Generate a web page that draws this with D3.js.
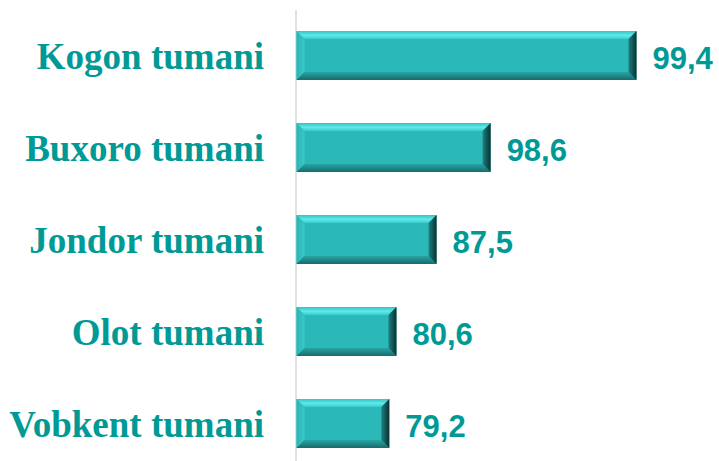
<!DOCTYPE html>
<html>
<head>
<meta charset="utf-8">
<script src="https://cdn.jsdelivr.net/npm/d3@7"></script>
<style>
  body { margin: 0; background: #fff; }
</style>
</head>
<body id="viz">
<script>
// Data
districts = ["Kogon tumani", "Buxoro tumani", "Jondor tumani", "Olot tumani", "Vobkent tumani"]
labels = ["99,4", "98,6", "87,5", "80,6", "79,2"]
// bar length as share of the longest bar (bars are not drawn to the printed values)
bar_share = [100, 57.1, 41.2, 29.4, 27.3]

// Consts
svg_width = 719
svg_height = 461
axis_x = 296.5
bar_end = 636.5
bevel = 8
teal = "#009a96"

svg = d3.select("body#viz")
  .append("svg")
  .attr("width", svg_width)
  .attr("height", svg_height)

var x = d3.scaleLinear()
  .domain([0, 100])
  .range([axis_x, bar_end])

var y = d3.scaleBand()
  .domain(districts)
  .range([9.5, 469.5])
  .paddingInner(0.467)
  .paddingOuter(0.2335)

// gradients for the bevel
var defs = svg.append("defs")
function grad(id, x2, y2, stops) {
  var g = defs.append("linearGradient")
    .attr("id", id)
    .attr("x1", 0).attr("y1", 0)
    .attr("x2", x2).attr("y2", y2)
  stops.forEach(function(s) {
    g.append("stop").attr("offset", s[0]).attr("stop-color", s[1])
  })
}
grad("g_top", 0, 1, [[0, "#34c2c2"], [0.55, "#5eeaea"], [1, "#3ccaca"]])
grad("g_left", 1, 0, [[0, "#2cb4b4"], [1, "#3ac8c8"]])
grad("g_bottom", 0, 1, [[0, "#28a4a4"], [1, "#1a6a6a"]])
grad("g_right", 1, 0, [[0, "#1f8080"], [1, "#093030"]])

// vertical axis line
svg.append("line")
  .attr("x1", axis_x - 0.5).attr("x2", axis_x - 0.5)
  .attr("y1", 10).attr("y2", svg_height)
  .style("stroke", "#d9d9d9")
  .style("stroke-width", 1.5)

var rows = svg.selectAll("g.bar")
  .data(districts)
  .enter().append("g")
  .attr("class", "bar")

rows.append("rect")
  .attr("x", x(0))
  .attr("y", function(d) { return y(d) })
  .attr("width", function(d, i) { return x(bar_share[i]) - x(0) })
  .attr("height", y.bandwidth())
  .attr("fill", "#2bb8b8")

function facet(side) {
  return function(d, i) {
    var x0 = x(0), x1 = x(bar_share[i]), y0 = y(d), y1 = y(d) + y.bandwidth(), b = bevel
    var p
    if (side == "top") p = [[x0, y0], [x1, y0], [x1 - b, y0 + b], [x0 + b, y0 + b]]
    if (side == "bottom") p = [[x0, y1], [x1, y1], [x1 - b, y1 - b], [x0 + b, y1 - b]]
    if (side == "left") p = [[x0, y0], [x0 + b, y0 + b], [x0 + b, y1 - b], [x0, y1]]
    if (side == "right") p = [[x1, y0], [x1 - b, y0 + b], [x1 - b, y1 - b], [x1, y1]]
    return "M" + p.join("L") + "Z"
  }
}
;["top", "left", "bottom", "right"].forEach(function(side) {
  rows.append("path")
    .attr("d", facet(side))
    .attr("fill", "url(#g_" + side + ")")
})

// value labels
rows.append("text")
  .attr("x", function(d, i) { return x(bar_share[i]) + 16 })
  .attr("y", function(d) { return y(d) + y.bandwidth() / 2 + 13 })
  .text(function(d, i) { return labels[i] })
  .style("font-family", "'Liberation Sans', Arial, sans-serif")
  .style("font-weight", "bold")
  .style("font-size", "31px")
  .style("fill", teal)

// category labels
rows.append("text")
  .attr("x", 264)
  .attr("y", function(d) { return y(d) + y.bandwidth() / 2 + 13 })
  .attr("text-anchor", "end")
  .text(function(d) { return d })
  .style("font-family", "'Liberation Serif', 'Times New Roman', serif")
  .style("font-weight", "bold")
  .style("font-size", "37px")
  .style("fill", teal)
</script>
</body>
</html>
